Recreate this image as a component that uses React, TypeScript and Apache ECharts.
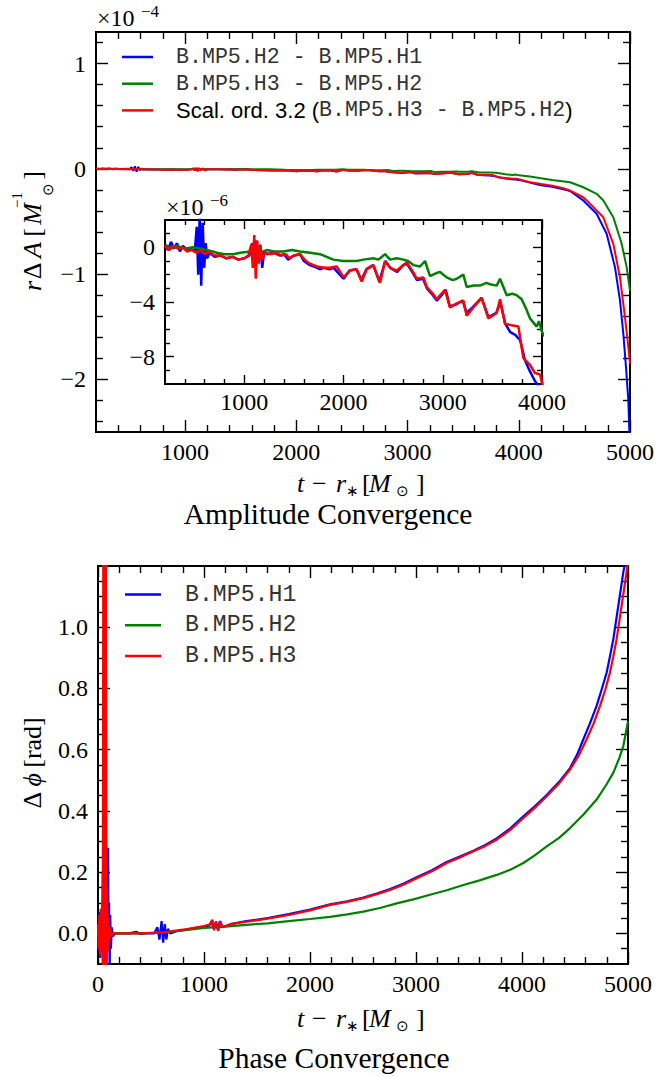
import { useEffect, useRef } from 'react';
import * as echarts from 'echarts';

type Pt = [number, number];

const SERIF = "'Liberation Serif', serif";
const MONO = "'Liberation Mono', monospace";
const SANS = "'Liberation Sans', sans-serif";

// ---- Amplitude differences r*dA, in units of 1e-6 (inset units). Main panel shows them in 1e-4.
const ampH2H1: Pt[] = [
  [200, 0.2], [230, -0.2], [260, 0.4], [290, -0.1], [320, 0.3], [350, -0.3], [380, 0.1], [420, -0.2],
  [460, -0.1], [500, -0.3], [520, 1.5], [535, -2.0], [550, 2.5], [565, -2.8], [580, 1.8], [595, -1.5],
  [610, 0.3], [625, -0.8], [650, -0.4], [700, -0.7], [760, -0.6], [820, -0.8], [880, -0.7], [940, -0.9],
  [1000, -0.8], [1050, -0.6], [1080, 0.3], [1100, -1.2], [1120, 0.5], [1140, -1.0], [1160, 0.2],
  [1180, -1.5], [1200, -0.3], [1230, -0.5], [1300, -0.4], [1360, -0.6], [1400, -0.5], [1440, -0.9],
  [1500, -0.6], [1560, -0.5], [1600, -1.0], [1660, -1.3], [1700, -1.4], [1760, -1.6], [1800, -1.5],
  [1860, -1.6], [1900, -1.5], [1950, -1.9], [2000, -2.3], [2060, -1.7], [2130, -1.6], [2180, -2.4],
  [2230, -1.6], [2300, -1.3], [2360, -2.5], [2420, -1.0], [2470, -1.5], [2540, -1.8], [2600, -1.3],
  [2640, -1.2], [2700, -1.9], [2740, -2.4], [2800, -2.3], [2840, -3.0], [2900, -3.5], [2940, -3.9],
  [3000, -3.4], [3030, -3.1], [3070, -4.3], [3130, -4.2], [3200, -3.9], [3240, -4.8], [3300, -4.4],
  [3390, -3.7], [3460, -5.1], [3540, -4.8], [3580, -4.0], [3630, -5.6], [3680, -6.2], [3730, -6.4],
  [3780, -6.8], [3830, -8.3], [3880, -9.1], [3930, -9.8], [3970, -10.2], [4000, -10.5], [4100, -13],
  [4200, -15.5], [4300, -17], [4400, -19.5], [4460, -21], [4580, -30], [4700, -42.7], [4790, -61.7],
  [4865, -93.4], [4910, -125], [4940, -156.7], [4964, -188.4], [4985, -220], [4994, -249], [5000, -270],
];

const ampH3H2: Pt[] = [
  [200, 0.2], [260, -0.1], [320, 0.1], [400, -0.1], [480, 0.0], [560, -0.1], [620, -0.2], [680, -0.3],
  [721, -0.4], [800, -0.5], [889, -0.5], [960, -0.4], [1057, -0.3], [1100, -0.2], [1150, -0.4],
  [1225, -0.2], [1300, -0.3], [1393, -0.3], [1480, -0.2], [1561, -0.3], [1662, -0.4], [1763, -0.5],
  [1830, -0.7], [1897, -0.9], [1997, -1.0], [2065, -1.0], [2132, -1.0], [2200, -0.9], [2300, -0.8],
  [2350, -0.9], [2418, -0.5], [2468, -0.9], [2536, -0.8], [2603, -0.9], [2650, -1.0], [2704, -1.3],
  [2771, -1.4], [2821, -1.0], [2871, -2.1], [2930, -1.9], [2972, -1.8], [3039, -2.2], [3100, -2.4],
  [3140, -2.3], [3207, -2.0], [3241, -2.9], [3310, -2.8], [3375, -2.8], [3440, -2.6], [3476, -2.7],
  [3543, -2.8], [3577, -2.3], [3644, -3.5], [3700, -3.4], [3745, -3.5], [3795, -3.8], [3840, -4.5],
  [3879, -5.2], [3946, -5.8], [3970, -5.4], [4000, -6.2], [4101, -7.3], [4200, -9], [4300, -10.5],
  [4461, -12.7], [4580, -17.5], [4700, -23.7], [4760, -30], [4850, -46], [4925, -71.2], [4970, -93.4],
  [5000, -115.6],
];

const ampScaled: Pt[] = [
  [200, 0.1], [240, -0.2], [280, 0.1], [330, -0.1], [380, 0.0], [420, -0.3], [470, -0.2], [520, -0.4],
  [560, -0.2], [600, -0.5], [640, -0.3], [700, -0.6], [760, -0.6], [820, -0.8], [880, -0.7], [940, -0.9],
  [1000, -0.8], [1040, -0.6], [1070, 0.2], [1085, -1.5], [1100, 0.9], [1115, -2.3], [1130, 0.5],
  [1145, -1.2], [1160, 0.1], [1180, -0.9], [1210, -0.4], [1260, -0.5], [1320, -0.4], [1380, -0.6],
  [1420, -0.5], [1450, -0.8], [1500, -0.6], [1560, -0.5], [1620, -1.0], [1660, -1.2], [1730, -1.4],
  [1800, -1.5], [1860, -1.5], [1930, -1.4], [2000, -2.2], [2065, -1.7], [2130, -1.6], [2183, -2.5],
  [2233, -1.6], [2300, -1.3], [2367, -2.6], [2418, -1.0], [2470, -1.5], [2536, -1.7], [2636, -1.1],
  [2700, -1.8], [2737, -2.3], [2804, -2.2], [2838, -2.9], [2900, -3.4], [2938, -3.8], [3022, -3.1],
  [3072, -4.4], [3140, -4.1], [3207, -3.9], [3241, -5.0], [3308, -4.4], [3392, -3.7], [3459, -5.2],
  [3543, -4.8], [3577, -3.8], [3627, -5.6], [3694, -5.7], [3762, -5.8], [3812, -8.1], [3879, -8.6],
  [3929, -9.2], [3980, -9.3], [4000, -9.9], [4100, -12.7], [4200, -14.5], [4300, -16], [4400, -18.5],
  [4461, -20.6], [4580, -27], [4611, -30], [4760, -46], [4850, -71.2], [4910, -103], [4955, -141],
  [4985, -169], [5000, -185],
];

// ---- Phase differences in rad
const phaseH1: Pt[] = [
  [0, 0.02], [8, -0.06], [15, 0.07], [22, -0.08], [30, 0.06], [38, -0.04], [45, 0.2], [52, -0.05],
  [58, 0.12], [65, -0.08], [72, 0.05], [80, -0.1], [88, 0.15], [95, 0.28], [100, -0.05], [105, 0.1],
  [110, -0.12], [115, 0.06], [122, -0.05], [130, 0.02], [140, -0.01], [160, 0.0], [200, 0.0], [300, 0.0],
  [360, 0.005], [400, -0.002], [450, 0.0], [530, 0.0], [560, 0.02], [580, -0.02], [600, 0.04],
  [615, -0.03], [630, 0.03], [645, -0.02], [660, 0.015], [680, 0.0], [750, 0.008], [850, 0.013],
  [950, 0.02], [1050, 0.025], [1070, 0.04], [1090, 0.015], [1110, 0.035], [1130, 0.012], [1150, 0.04],
  [1170, 0.02], [1250, 0.03], [1400, 0.04], [1600, 0.05], [1800, 0.063], [2000, 0.078], [2189, 0.095],
  [2350, 0.105], [2503, 0.117], [2630, 0.13], [2755, 0.145], [2880, 0.162], [3006, 0.183], [3150, 0.206],
  [3289, 0.233], [3420, 0.252], [3541, 0.27], [3650, 0.288], [3761, 0.31], [3890, 0.343], [4013, 0.382],
  [4120, 0.415], [4233, 0.452], [4350, 0.495], [4453, 0.54], [4520, 0.584], [4579, 0.634], [4640, 0.685],
  [4704, 0.743], [4750, 0.795], [4799, 0.852], [4830, 0.905], [4862, 0.962], [4909, 1.071], [4956, 1.18],
  [4978, 1.22],
];

const phaseH2: Pt[] = [
  [0, 0.01], [20, -0.02], [40, 0.02], [60, -0.02], [80, 0.01], [100, 0.0], [200, 0.0], [400, 0.0],
  [600, 0.002], [800, 0.01], [1000, 0.018], [1200, 0.022], [1400, 0.028], [1600, 0.033], [1800, 0.04],
  [2000, 0.047], [2189, 0.054], [2350, 0.062], [2503, 0.071], [2660, 0.083], [2818, 0.098],
  [2975, 0.111], [3132, 0.126], [3290, 0.141], [3447, 0.158], [3600, 0.173], [3761, 0.191],
  [3890, 0.208], [4013, 0.23], [4120, 0.255], [4233, 0.284], [4350, 0.312], [4453, 0.344],
  [4580, 0.388], [4704, 0.437], [4800, 0.488], [4862, 0.525], [4920, 0.575], [4956, 0.612],
  [5000, 0.693],
];

const phaseH3: Pt[] = [
  [0, 0.03], [6, -0.05], [12, 0.06], [18, -0.07], [25, 0.08], [32, -0.06], [40, 0.1], [45, -0.15],
  [50, 1.3], [56, -0.15], [62, 1.3], [68, -0.15], [74, 1.3], [80, -0.15], [86, 0.15], [92, -0.06],
  [98, 0.05], [105, -0.03], [115, 0.02], [125, -0.01], [140, 0.0], [200, 0.0], [400, 0.0], [600, 0.003],
  [800, 0.012], [1000, 0.024], [1060, 0.03], [1080, 0.045], [1095, 0.01], [1115, 0.04], [1135, 0.008],
  [1155, 0.04], [1175, 0.02], [1250, 0.03], [1400, 0.038], [1600, 0.048], [1800, 0.06], [2000, 0.075],
  [2189, 0.093], [2350, 0.103], [2503, 0.115], [2630, 0.128], [2755, 0.142], [2880, 0.159], [3006, 0.18],
  [3150, 0.203], [3289, 0.23], [3420, 0.249], [3541, 0.268], [3650, 0.285], [3761, 0.306],
  [3890, 0.338], [4013, 0.377], [4120, 0.41], [4233, 0.448], [4350, 0.49], [4453, 0.535],
  [4540, 0.584], [4610, 0.634], [4675, 0.685], [4736, 0.743], [4785, 0.795], [4830, 0.852],
  [4862, 0.905], [4893, 0.962], [4940, 1.071], [4987, 1.18], [5000, 1.22],
];

const ampNames = ['B.MP5.H2 - B.MP5.H1', 'B.MP5.H3 - B.MP5.H2', 'Scal. ord. 3.2 (B.MP5.H3 - B.MP5.H2)'];
const phaseNames = ['B.MP5.H1', 'B.MP5.H2', 'B.MP5.H3'];
const colors = ['#0000ff', '#008000', '#ff0000'];

const ampXMajor = [1000, 2000, 3000, 4000, 5000];
const ampYMajor = [-2, -1, 0, 1];
const insetXMajor = [1000, 2000, 3000, 4000];
const insetYMajor = [-8, -4, 0];
const phaseXMajor = [0, 1000, 2000, 3000, 4000, 5000];
const phaseYMajor = [0, 0.2, 0.4, 0.6, 0.8, 1.0];

function minorTicks(from: number, to: number, step: number, majors: number[]): number[] {
  const out: number[] = [];
  const n = Math.round((to - from) / step);
  for (let i = 0; i <= n; i++) {
    const v = Math.round((from + i * step) * 1e6) / 1e6;
    if (!majors.some((m) => Math.abs(m - v) < 1e-9)) out.push(v);
  }
  return out;
}

const minus = (v: number) => (v < 0 ? '\u2212' + String(Math.abs(v)) : String(v));

function axes(dim: 'x' | 'y', gridIndex: number, min: number, max: number, majors: number[], minors: number[],
  majLen: number, minLen: number, fmt: (v: number) => string, margin: number): any[] {
  const [p1, p2] = dim === 'x' ? ['bottom', 'top'] : ['left', 'right'];
  const base = (position: string) => ({
    type: 'value', gridIndex, min, max, position,
    splitLine: { show: false }, splitArea: { show: false },
    axisLine: { show: false, onZero: false },
  });
  const tick = (vals: number[], len: number) => ({
    show: true, inside: true, length: len, customValues: vals, lineStyle: { color: '#000', width: 1.4 },
  });
  const nolab = { show: false };
  return [
    {
      ...base(p1), axisTick: tick(majors, majLen),
      axisLabel: {
        show: true, customValues: majors, margin, color: '#000', fontFamily: SERIF, fontSize: 24,
        formatter: (v: number) => fmt(v),
      },
    },
    { ...base(p1), axisTick: tick(minors, minLen), axisLabel: nolab },
    { ...base(p2), axisTick: tick(majors, majLen), axisLabel: nolab },
    { ...base(p2), axisTick: tick(minors, minLen), axisLabel: nolab },
  ];
}

function rich(tokens: Array<[string, any]>) {
  let text = '';
  const r: any = {};
  tokens.forEach(([s, st], i) => {
    const key = 'k' + i;
    text += `{${key}|${s}}`;
    r[key] = { color: '#000', fontFamily: SERIF, ...st };
  });
  return { text, rich: r };
}

function App() {
  const ref = useRef<HTMLDivElement>(null);

  useEffect(() => {
    if (!ref.current) return;
    const chart = echarts.init(ref.current, undefined, { renderer: 'svg' });

    const LH = 30;
    const it = (w?: number) => ({ fontStyle: 'italic', fontSize: 26, lineHeight: LH, ...(w ? { width: w } : {}) });
    const up = (w?: number) => ({ fontSize: 26, lineHeight: LH, ...(w ? { width: w } : {}) });
    const sub = (w?: number) => ({ fontSize: 15, lineHeight: 16, verticalAlign: 'bottom', ...(w ? { width: w } : {}) });

    const xLabel = rich([
      ['t', it(15)], ['\u2212', up(24)], ['r', it(10)], ['\u2217', sub(16)], ['[', up(7)],
      ['M', it(27)], ['\u2299', sub(20)], [']', up(8)],
    ]);

    const LHY = 46;
    const ity = (w: number) => ({ fontStyle: 'italic', fontSize: 26, lineHeight: LHY, width: w });
    const upy = (w: number) => ({ fontSize: 26, lineHeight: LHY, width: w });
    const yLabelTop = rich([
      ['r', ity(13)], ['\u0394', upy(17)], ['A', ity(25)], ['[', upy(10)], ['M', ity(27)],
      ['\u22121', { fontSize: 15, lineHeight: 14, verticalAlign: 'top', width: 1 }],
      ['\u2299', { fontSize: 15, lineHeight: 38, verticalAlign: 'bottom', width: 20 }],
      [']', upy(8)],
    ]);
    const yLabelBottom = rich([
      ['\u0394', up(17)], ['\u03D5', it(24)], ['[rad]', up()],
    ]);

    const plain = (x: number, y: number, text: string, size: number, align = 'left') => ({
      type: 'text', x, y, z: 100,
      style: { text, fontFamily: SERIF, fontSize: size, fill: '#000', align, verticalAlign: 'middle' },
    });

    const toMain = (d: Pt[]) => d.map(([t, v]) => [t, v / 100]);

    const series: any[] = [];
    const addLine = (name: string, data: any[], color: string, ai: number, width: number) => {
      series.push({
        type: 'line', name, data, xAxisIndex: ai, yAxisIndex: ai, showSymbol: false, symbol: 'none',
        color, lineStyle: { color, width }, clip: true, silent: true, z: 3,
      });
    };
    const ampData = [ampH2H1, ampH3H2, ampScaled];
    ampData.forEach((d, i) => addLine(ampNames[i], toMain(d), colors[i], 0, 2));
    ampData.forEach((d, i) => addLine(ampNames[i], d, colors[i], 4, 2.5));
    [phaseH1, phaseH2, phaseH3].forEach((d, i) => addLine(phaseNames[i], d, colors[i], 8, 2.2));

    const legendRich = (monoSize: number, gap: number) => ({
      g: { width: gap, lineHeight: 26 },
      m: { fontFamily: MONO, fontSize: monoSize, color: '#333', lineHeight: 26 },
      s: { fontFamily: SANS, fontSize: 22, color: '#000', lineHeight: 26 },
    });

    const option: any = {
      animation: false,
      backgroundColor: '#fff',
      textStyle: { fontFamily: SERIF },
      grid: [
        { left: 96, top: 32, width: 534, height: 400, show: true, borderColor: '#000', borderWidth: 2, backgroundColor: 'transparent', containLabel: false },
        { left: 165, top: 220, width: 377, height: 164, show: true, borderColor: '#000', borderWidth: 2, backgroundColor: '#fff', containLabel: false },
        { left: 98, top: 566, width: 530, height: 398, show: true, borderColor: '#000', borderWidth: 2, backgroundColor: 'transparent', containLabel: false },
      ],
      xAxis: [
        ...axes('x', 0, 200, 5000, ampXMajor, minorTicks(400, 4800, 200, ampXMajor), 12, 7, String, 8),
        ...axes('x', 1, 200, 4000, insetXMajor, minorTicks(400, 3800, 200, insetXMajor), 9, 5, String, 6),
        ...axes('x', 2, 0, 5000, phaseXMajor, minorTicks(200, 4800, 200, phaseXMajor), 12, 7, String, 8),
      ],
      yAxis: [
        ...axes('y', 0, -2.5, 1.3, ampYMajor, minorTicks(-2.4, 1.2, 0.2, ampYMajor), 12, 7, minus, 10),
        ...axes('y', 1, -10, 2, insetYMajor, minorTicks(-9, 1, 1, insetYMajor), 9, 5, minus, 10),
        ...axes('y', 2, -0.1, 1.2, phaseYMajor, minorTicks(-0.05, 1.15, 0.05, phaseYMajor), 12, 7, (v: number) => v.toFixed(1), 10),
      ],
      legend: [
        {
          data: ampNames, orient: 'vertical', left: 122, top: 46, itemWidth: 31, itemHeight: 2.5, itemGap: 4.7,
          icon: 'rect', padding: 0, selectedMode: false,
          formatter: (n: string) => n.startsWith('Scal')
            ? '{g| }{s|Scal. ord. 3.2 (}{m|B.MP5.H3 - B.MP5.H2}{s|)}'
            : `{g| }{m|${n}}`,
          textStyle: { rich: legendRich(21.6, 18) },
        },
        {
          data: phaseNames, orient: 'vertical', left: 125, top: 583, itemWidth: 36, itemHeight: 2.5, itemGap: 7.7,
          icon: 'rect', padding: 0, selectedMode: false,
          formatter: (n: string) => `{g| }{m|${n}}`,
          textStyle: { rich: legendRich(23.2, 19) },
        },
      ],
      graphic: [
        plain(97, 18, '\u00D710', 24),
        plain(141, 11, '\u22124', 17),
        plain(166, 207, '\u00D710', 24),
        plain(210, 200, '\u22126', 17),
        { type: 'text', x: 297, y: 483, z: 100, style: { ...xLabel, align: 'left', verticalAlign: 'middle' } },
        { type: 'text', x: 297, y: 1018, z: 100, style: { ...xLabel, align: 'left', verticalAlign: 'middle' } },
        { type: 'text', x: 32, y: 232, rotation: Math.PI / 2, z: 100, style: { ...yLabelTop, align: 'center', verticalAlign: 'middle' } },
        { type: 'text', x: 32, y: 763, rotation: Math.PI / 2, z: 100, style: { ...yLabelBottom, align: 'center', verticalAlign: 'middle' } },
        plain(328, 514, 'Amplitude Convergence', 29.5, 'center'),
        plain(334, 1058, 'Phase Convergence', 29.5, 'center'),
      ],
      series,
    };

    chart.setOption(option);
    return () => chart.dispose();
  }, []);

  return (
    <div
      ref={ref}
      style={{ position: 'absolute', left: 0, top: 0, width: 659, height: 1077, background: '#fff' }}
    />
  );
}

export default App;
